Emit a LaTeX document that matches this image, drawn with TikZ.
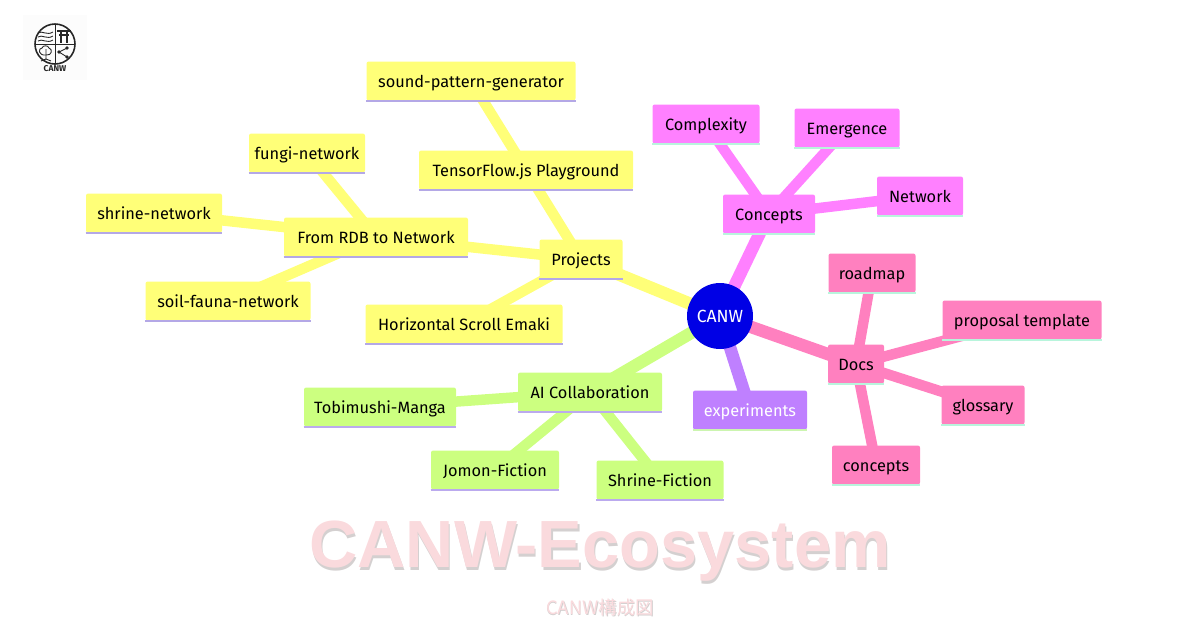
\documentclass[tikz,border=0pt]{standalone}
\usepackage{fontspec}
\setmainfont{Fira Sans}
\newfontfamily\titlefont{Liberation Sans}
\newfontfamily\cjkfont{Noto Sans CJK JP}
\usetikzlibrary{backgrounds}
\definecolor{yelfill}{HTML}{FFFF78}
\definecolor{yelline}{HTML}{B4A8E6}
\definecolor{magfill}{HTML}{FF80FF}
\definecolor{magline}{HTML}{B8F5DC}
\definecolor{pnkfill}{HTML}{FF80BF}
\definecolor{pnkline}{HTML}{B8F5DC}
\definecolor{grnfill}{HTML}{CCFF80}
\definecolor{grnline}{HTML}{BBAAEE}
\definecolor{purfill}{HTML}{BF80FF}
\definecolor{purline}{HTML}{CCF5B0}
\definecolor{titlepink}{HTML}{FADADD}
\definecolor{titleshade}{HTML}{D4D0D0}
\newcommand{\shadetext}[3]{\makebox[0pt][l]{\kern#1\raisebox{-#2}{\textcolor{titleshade}{#3}}}#3}
\tikzset{
    mmbox/.style={rectangle,rounded corners=1.2pt,minimum height=0.78cm,inner xsep=0pt,
        text height=8pt,text depth=1pt,
        font=\fontsize{9.3}{11}\selectfont,text=black},
    underline/.style={line width=1.4pt},
    branch/.style={line width=0.25cm},
    twig/.style={line width=0.21cm},
}
\begin{document}
\begin{tikzpicture}[x=0.02cm,y=-0.02cm]
    \useasboundingbox (0,0) rectangle (1200,627);

    % logo
    \fill[black!1] (23,15) rectangle (87,80);
    \begin{scope}[line width=0.5pt,black!85]
        \draw[line width=0.9pt] (55,44) circle (20);
        \draw (35,44) -- (75,44) (55,24) -- (55,64);
        \foreach \y in {33,37,41}{
            \draw (38,\y) .. controls (42,\y-3) and (47,\y+3) .. (53,\y-1);
        }
        \draw[line width=0.7pt] (57,31) -- (71,31) (59,35) -- (69,35) (61,31) -- (61,43) (67,31) -- (67,43);
        \draw (46,55) .. controls (38,56) and (38,48) .. (42,48) .. controls (43,45) and (48,45) .. (49,48) .. controls (53,49) and (52,56) .. (46,55);
        \draw (46,49) -- (46,59) -- (41,61) (46,59) -- (51,61);
        \fill (59,52) circle (1.8) (67,48) circle (1.8) (67,57) circle (1.8);
        \draw (67,48) -- (59,52) -- (67,57);
    \end{scope}
    \node[font=\fontsize{4.8}{6}\selectfont\bfseries,black!85] (logotext) at (55,69) {CANW};

    % title
    \node[font=\fontsize{38}{40}\selectfont\bfseries\titlefont,text=titlepink] (title) at (600,553) {\shadetext{0.6pt}{1.7pt}{CANW-Ecosystem}};
    \node[font=\fontsize{10.5}{12}\selectfont\cjkfont,text=titlepink] (subtitle) at (600,608) {\shadetext{0.4pt}{0.6pt}{CANW構成図}};

    % root
    \node[circle,fill=blue!90!black,minimum size=1.32cm,inner sep=0pt,text=white,font=\fontsize{10}{12}\selectfont] (canw) at (720,316) {CANW};

    % projects
    \foreach \nm/\x/\y/\w/\txt in {
        projects/581/259/83/Projects,
        rdb/376/237/184/From RDB to Network,
        tfjs/526/170/214/TensorFlow.js Playground,
        sound/471/81/209/sound-pattern-generator,
        fungi/307/153/116/fungi-network,
        shrinenet/154/213/136/shrine-network,
        soil/228/301/165/soil-fauna-network,
        emaki/464/324/197/Horizontal Scroll Emaki}{
        \node[mmbox,fill=yelfill,minimum width=\w*0.02cm] (\nm) at (\x,\y) {\txt};
        \draw[underline,yelline] (\nm.south west) -- (\nm.south east);
    }
    % concepts
    \foreach \nm/\x/\y/\w/\txt in {
        concepts/769/214/92/Concepts,
        complexity/706/124/107/Complexity,
        emergence/847/128/105/Emergence,
        network/920/196/86/Network}{
        \node[mmbox,fill=magfill,minimum width=\w*0.02cm] (\nm) at (\x,\y) {\txt};
        \draw[underline,magline] (\nm.south west) -- (\nm.south east);
    }
    % docs
    \foreach \nm/\x/\y/\w/\txt in {
        docs/856/364/56/Docs,
        roadmap/872/273/87/roadmap,
        proposal/1022/320/159/proposal template,
        glossary/983/405/83/glossary,
        docconcepts/876/465/88/concepts}{
        \node[mmbox,fill=pnkfill,minimum width=\w*0.02cm] (\nm) at (\x,\y) {\txt};
        \draw[underline,pnkline] (\nm.south west) -- (\nm.south east);
    }
    % ai collaboration
    \foreach \nm/\x/\y/\w/\txt in {
        ai/590/392/144/AI Collaboration,
        tobimushi/380/407/152/Tobimushi-Manga,
        jomon/495/470/128/Jomon-Fiction,
        shrinefic/660/480/127/Shrine-Fiction}{
        \node[mmbox,fill=grnfill,minimum width=\w*0.02cm] (\nm) at (\x,\y) {\txt};
        \draw[underline,grnline] (\nm.south west) -- (\nm.south east);
    }
    % experiments
    \node[mmbox,fill=purfill,minimum width=114*0.02cm,text=white] (experiments) at (750,410) {experiments};
    \draw[underline,purline] (experiments.south west) -- (experiments.south east);

    % connectors
    \begin{scope}[on background layer]
        \draw[branch,yelfill] (canw.center) -- (projects.center);
        \draw[branch,magfill] (canw.center) -- (concepts.center);
        \draw[branch,pnkfill] (canw.center) -- (docs.center);
        \draw[branch,grnfill] (canw.center) -- (ai.center);
        \draw[branch,purfill] (canw.center) -- (experiments.center);
        \foreach \a/\b in {projects/rdb,projects/tfjs,projects/emaki,tfjs/sound,rdb/fungi,rdb/shrinenet,rdb/soil}{
            \draw[twig,yelfill] (\a.center) -- (\b.center);
        }
        \foreach \b in {complexity,emergence,network}{
            \draw[twig,magfill] (concepts.center) -- (\b.center);
        }
        \foreach \b in {roadmap,proposal,glossary,docconcepts}{
            \draw[twig,pnkfill] (docs.center) -- (\b.center);
        }
        \foreach \b in {tobimushi,jomon,shrinefic}{
            \draw[twig,grnfill] (ai.center) -- (\b.center);
        }
    \end{scope}
\end{tikzpicture}
\end{document}
